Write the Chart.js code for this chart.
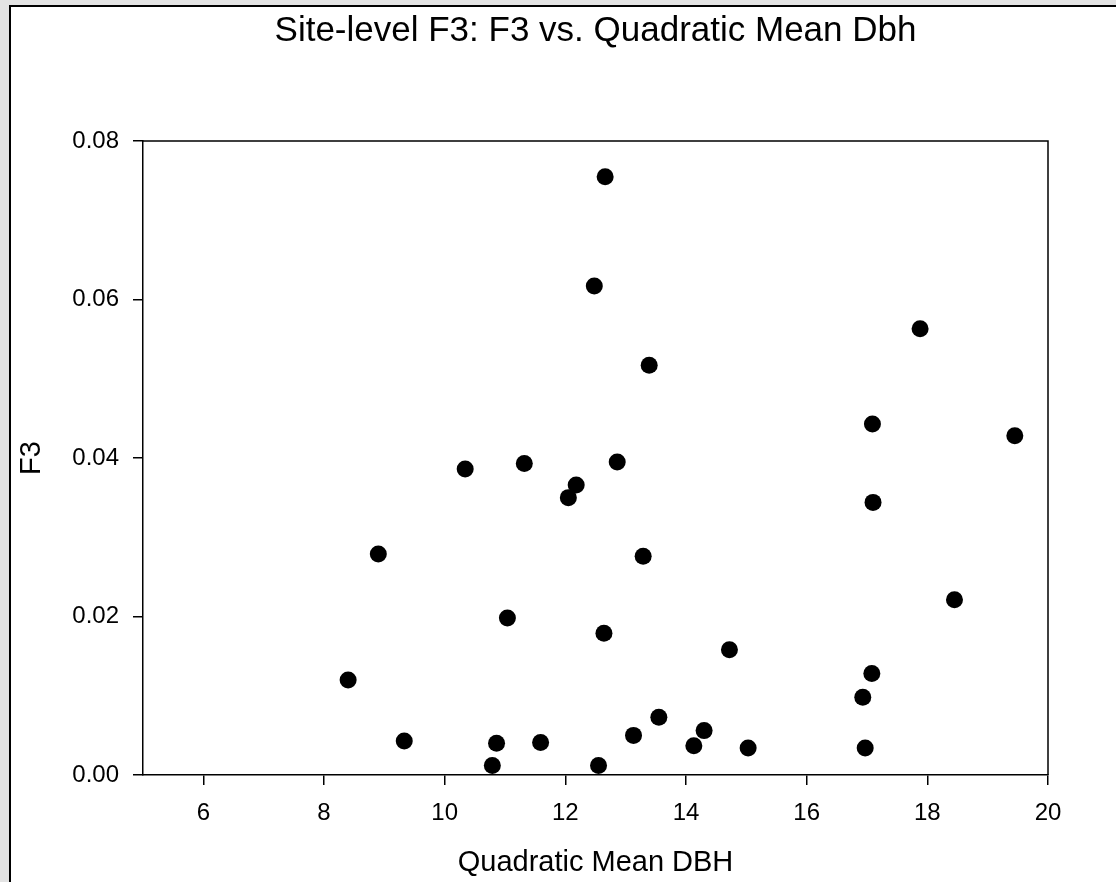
<!DOCTYPE html>
<html>
<head>
<meta charset="utf-8">
<title>Site-level F3 vs Quadratic Mean Dbh</title>
<script src="https://cdn.jsdelivr.net/npm/chart.js@4.4.1/dist/chart.umd.min.js"></script>
<style>
  html, body { margin: 0; padding: 0; background: #e3e3e3; }
  canvas { display: block; }
</style>
</head>
<body>
<canvas id="chart" width="1116" height="882"></canvas>
<script>
// quadratic mean dbh (x) and F3 (y)
var qmDbh = [8.40, 8.90, 9.33, 10.34, 10.79, 10.86, 11.04, 11.32, 11.59, 12.05, 12.18,
             12.48, 12.55, 12.64, 12.66, 12.86, 13.13, 13.29, 13.39, 13.55, 14.13, 14.30,
             14.72, 15.03, 16.93, 16.97, 17.08, 17.09, 17.10, 17.88, 18.45, 19.45];
var f3 = [0.0120, 0.0279, 0.0043, 0.0386, 0.0012, 0.0040, 0.0198, 0.0393, 0.0041, 0.0350, 0.0366,
          0.0617, 0.0012, 0.0179, 0.0755, 0.0395, 0.0050, 0.0276, 0.0517, 0.0073, 0.0037, 0.0056,
          0.0158, 0.0034, 0.0098, 0.0034, 0.0128, 0.0443, 0.0344, 0.0563, 0.0221, 0.0428];

var xTicks = [6, 8, 10, 12, 14, 16, 18, 20];
var yTicks = [0, 0.02, 0.04, 0.06, 0.08];

var titleText = 'Site-level F3: F3 vs. Quadratic Mean Dbh';
var FONT = '"Liberation Sans", Arial, sans-serif';

var points = qmDbh.map(function (x, i) { return { x: x, y: f3[i] }; });

// gray backdrop, white panel with black frame, then the title
var framePlugin = {
  id: 'frame',
  beforeDraw: function (chart) {
    var ctx = chart.ctx;
    ctx.save();
    ctx.fillStyle = '#e3e3e3';
    ctx.fillRect(0, 0, chart.width, chart.height);
    ctx.fillStyle = '#ffffff';
    ctx.fillRect(10, 6, chart.width, chart.height);
    ctx.strokeStyle = '#000';
    ctx.lineWidth = 2;
    ctx.beginPath();
    ctx.moveTo(10, chart.height + 2);
    ctx.lineTo(10, 6);
    ctx.lineTo(chart.width + 2, 6);
    ctx.stroke();
    var a = chart.chartArea;
    ctx.fillStyle = '#000';
    ctx.font = '35px ' + FONT;
    ctx.textAlign = 'center';
    ctx.textBaseline = 'middle';
    ctx.fillText(titleText, (a.left + a.right) / 2, 31);
    ctx.restore();
  },
  afterDraw: function (chart) {
    // top and right sides of the plot box
    var a = chart.chartArea, ctx = chart.ctx;
    ctx.save();
    ctx.strokeStyle = '#000';
    ctx.lineWidth = 1.5;
    ctx.beginPath();
    ctx.moveTo(a.left, a.top);
    ctx.lineTo(a.right, a.top);
    ctx.lineTo(a.right, a.bottom);
    ctx.stroke();
    ctx.restore();
  }
};

new Chart(document.getElementById('chart'), {
  type: 'scatter',
  data: {
    datasets: [{
      data: points,
      backgroundColor: '#000',
      borderColor: '#000',
      borderWidth: 0,
      pointRadius: 8.5,
      pointHoverRadius: 8.5
    }]
  },
  options: {
    responsive: false,
    animation: false,
    events: [],
    layout: { padding: { top: 141, right: 68, bottom: 0, left: 0 } },
    plugins: {
      legend: { display: false },
      tooltip: { enabled: false },
      title: { display: false }
    },
    scales: {
      x: {
        type: 'linear',
        min: 5,
        max: 20,
        afterBuildTicks: function (s) { s.ticks = xTicks.map(function (v) { return { value: v }; }); },
        afterFit: function (s) { s.height = 107; },
        border: { display: true, color: '#000', width: 1.5 },
        grid: { drawOnChartArea: false, drawTicks: true, tickLength: 10, color: '#000', lineWidth: 1.5 },
        ticks: { color: '#000', padding: 14, font: { family: FONT, size: 24 } },
        title: {
          display: true,
          text: 'Quadratic Mean DBH',
          color: '#000',
          font: { family: FONT, size: 29 },
          padding: { top: 0, bottom: 2 }
        }
      },
      y: {
        type: 'linear',
        min: 0,
        max: 0.08,
        afterBuildTicks: function (s) { s.ticks = yTicks.map(function (v) { return { value: v }; }); },
        afterFit: function (s) { s.width = 143; },
        border: { display: true, color: '#000', width: 1.5 },
        grid: { drawOnChartArea: false, drawTicks: true, tickLength: 10, color: '#000', lineWidth: 1.5 },
        ticks: {
          color: '#000',
          padding: 14,
          font: { family: FONT, size: 24 },
          callback: function (v) { return Number(v).toFixed(2); }
        },
        title: {
          display: true,
          text: 'F3',
          color: '#000',
          font: { family: FONT, size: 29 },
          padding: { top: 15, bottom: 0 }
        }
      }
    }
  },
  plugins: [framePlugin]
});
</script>
</body>
</html>
